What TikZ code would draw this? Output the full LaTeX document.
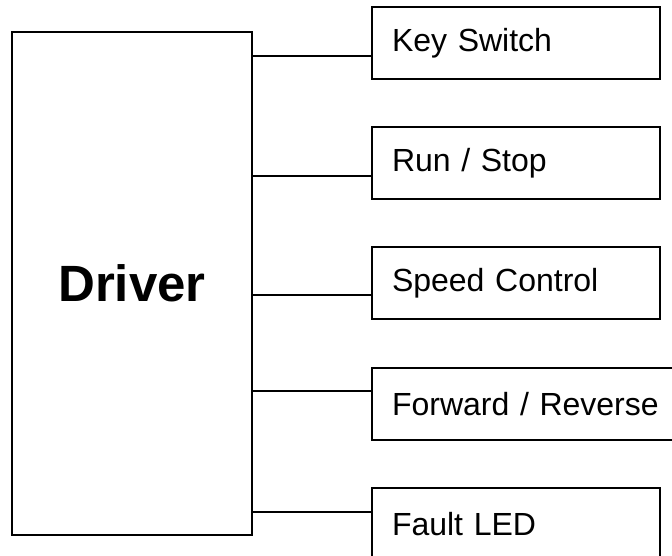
\documentclass[tikz,border=0pt]{standalone}
\usepackage{fontspec}
\setmainfont{Liberation Sans}
\usepackage{tikz}
\tikzset{
  blk/.style={draw,line width=1.1pt,rectangle,outer sep=0pt},
  sig/.style={blk,anchor=north west,inner xsep=20pt,inner ysep=0pt,
    text width=248pt,minimum height=72pt,align=left,
    font=\fontsize{32}{38}\selectfont},
  wire/.style={line width=1.1pt},
}
\newcommand{\wireto}[2]{%
  \coordinate (#1in) at (372,#2);
  \draw[wire] (driver.east |- #1in) -- (#1in);
}

\begin{document}
\begin{tikzpicture}[x=1pt,y=-1pt]
\useasboundingbox (0,0) rectangle (672,556);
\node[blk,anchor=north west,minimum width=240pt,minimum height=503pt,
  font=\fontsize{51}{60}\selectfont\bfseries] (driver) at (12,32) {Driver};
\node[sig] (keysw) at (372,7) {Key Switch};
\node[sig] (runstop) at (372,127) {Run / Stop};
\node[sig] (speed) at (372,247) {Speed Control};
\node[sig,text width=268pt] (fwdrev) at (372,368) {Forward / Reverse};
\node[sig] (fault) at (372,488) {Fault LED};
\wireto{keysw}{56} \wireto{runstop}{176} \wireto{speed}{295}
\wireto{fwdrev}{391} \wireto{fault}{512}
\end{tikzpicture}
\end{document}
